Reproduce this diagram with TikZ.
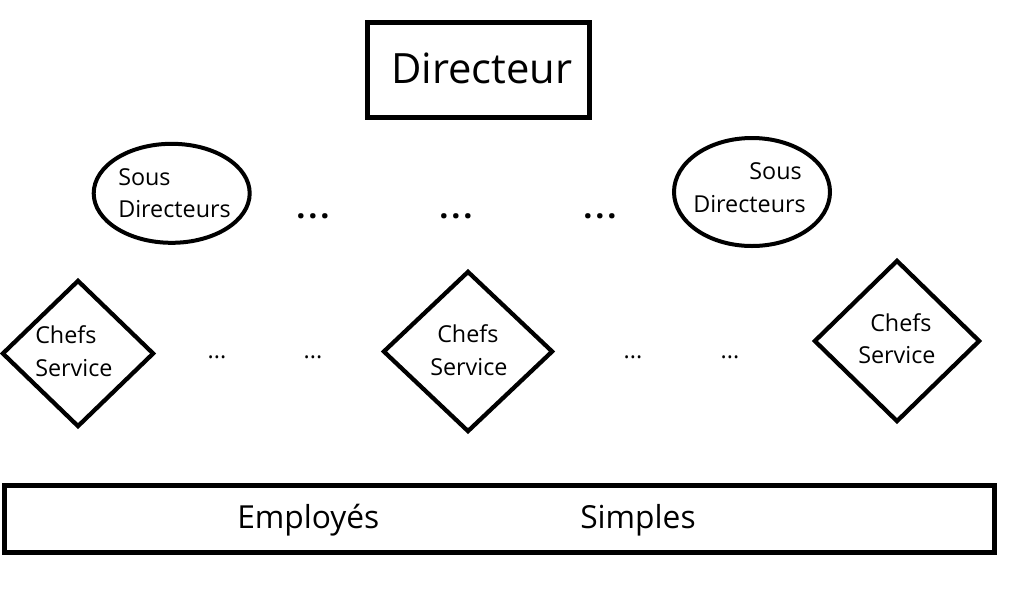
\documentclass[tikz,border=0pt]{standalone}
\usepackage{fontspec}
\setmainfont{Open Sans}
\usetikzlibrary{shapes.geometric}
\begin{document}
\begin{tikzpicture}[x=0.75pt,y=-0.75pt,
  frame/.style={draw=black,line width=3.75pt,rectangle,inner sep=0pt},
  oval/.style={draw=black,line width=3pt,ellipse,inner sep=0pt},
  losange/.style={draw=black,line width=3.2pt,diamond,inner sep=0pt,miter limit=10},
  lbl/.style={inner sep=0pt,font=\fontsize{17.5}{20}\selectfont},
  bigdots/.style={inner sep=0pt,font=\fontsize{24}{26}\bfseries\selectfont,anchor=base},
  smalldots/.style={inner sep=0pt,font=\fontsize{17.5}{20}\selectfont,anchor=base}]
\useasboundingbox (0,0) rectangle (1026,612);
\fill[white] (0,0) rectangle (1026,612);

% Directeur
\node[frame,minimum width=222*0.75pt,minimum height=95*0.75pt] (dir) at (478.5,70) {};
\node[inner sep=0pt,anchor=base west,font=\fontsize{31.3}{34}\selectfont] (dirt) at (391,83) {Directeur};

% Sous directeurs
\node[oval,minimum width=156*0.75pt,minimum height=99*0.75pt] (sd1) at (171.7,193.3) {};
\node[lbl,anchor=base west] (sd1a) at (118,185) {Sous};
\node[lbl,anchor=base west] (sd1b) at (118,217) {Directeurs};

\node[oval,minimum width=156*0.75pt,minimum height=108*0.75pt] (sd2) at (752,192) {};
\node[lbl,anchor=base east] (sd2a) at (802,179) {Sous};
\node[lbl,anchor=base west] (sd2b) at (693,212) {Directeurs};

\node[bigdots] (bd1) at (313,218) {.\kern2.2pt.\kern2.2pt.};
\node[bigdots] (bd2) at (456,218) {.\kern2.2pt.\kern2.2pt.};
\node[bigdots] (bd3) at (600,218) {.\kern2.2pt.\kern2.2pt.};

% Chefs service
\node[losange,minimum width=152*0.75pt,minimum height=147*0.75pt] (cs1) at (78,353.5) {};
\node[lbl,anchor=base west] (cs1a) at (35,343) {Chefs};
\node[lbl,anchor=base west] (cs1b) at (35,376) {Service};

\node[losange,minimum width=170*0.75pt,minimum height=161*0.75pt] (cs2) at (468,351.5) {};
\node[lbl,anchor=base west] (cs2a) at (437,342) {Chefs};
\node[lbl,anchor=base west] (cs2b) at (430,375) {Service};

\node[losange,minimum width=166*0.75pt,minimum height=162*0.75pt] (cs3) at (897,341) {};
\node[lbl,anchor=base west] (cs3a) at (870,331) {Chefs};
\node[lbl,anchor=base west] (cs3b) at (858,363) {Service};

\node[smalldots] (sd_1) at (217,358) {...};
\node[smalldots] (sd_2) at (313,358) {...};
\node[smalldots] (sd_3) at (633,358) {...};
\node[smalldots] (sd_4) at (730,358) {...};

% Employes simples
\node[frame,minimum width=990*0.75pt,minimum height=67*0.75pt] (emp) at (499.5,519) {};
\node[inner sep=0pt,anchor=base west,font=\fontsize{23.8}{27}\selectfont] (empa) at (237,528) {Employés};
\node[inner sep=0pt,anchor=base west,font=\fontsize{23.8}{27}\selectfont] (empb) at (580,528) {Simples};
\end{tikzpicture}
\end{document}
